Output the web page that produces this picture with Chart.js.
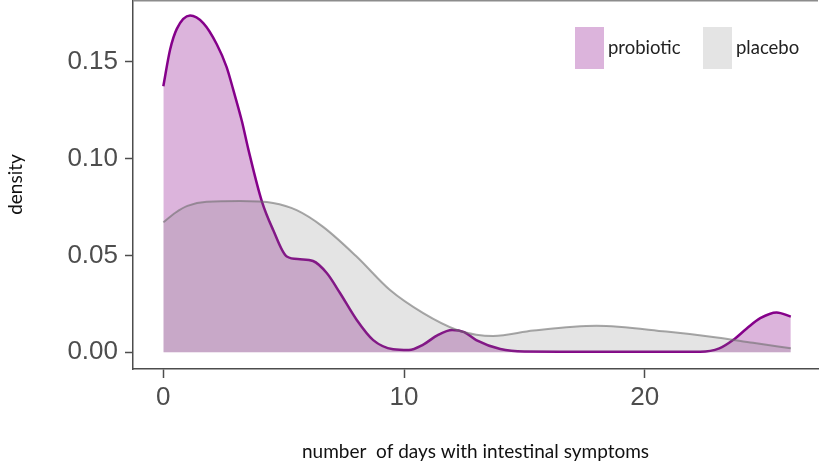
<!DOCTYPE html>
<html>
<head>
<meta charset="utf-8">
<script src="https://cdn.jsdelivr.net/npm/chart.js@4.4.1/dist/chart.umd.min.js"></script>
<style>
  html, body { margin: 0; padding: 0; background: #fff; }
  #wrap { width: 827px; height: 472px; }
</style>
</head>
<body>
<div id="wrap"><canvas id="chart" width="827" height="472"></canvas></div>
<script>
// density curves
const probioticDays = [0, 0.28, 0.56, 1.11, 1.66, 2.22, 2.63, 2.91, 3.26, 3.54, 4.09, 4.56, 5.13, 5.68, 6.22, 6.79, 7.34, 8.03, 8.72, 9.55, 10.2, 10.8, 11.4, 12.0, 12.5, 13.0, 14.0, 15.0, 17.0, 20.0, 22.3, 23.1, 23.67, 24.24, 24.8, 25.48, 26.07];
const probioticDensity = [0.1372, 0.156, 0.1668, 0.1737, 0.1698, 0.1589, 0.1471, 0.1352, 0.1194, 0.1043, 0.078, 0.0632, 0.0494, 0.048, 0.0471, 0.0409, 0.0306, 0.0168, 0.0063, 0.0016, 0.0012, 0.004, 0.0089, 0.0115, 0.0104, 0.0063, 0.0017, 0.0004, 0.0003, 0.0003, 0.0003, 0.002, 0.0063, 0.0123, 0.0176, 0.0206, 0.0184];

const placeboDays = [0, 0.5, 1.0, 1.8, 3.19, 4.56, 5.54, 6.64, 8.03, 9.42, 10.8, 12.2, 13.0, 13.7, 15.37, 18.0, 20.9, 23.0, 24.5, 26.07];
const placeboDensity = [0.0671, 0.072, 0.0755, 0.0777, 0.078, 0.077, 0.0733, 0.0647, 0.0494, 0.0321, 0.0202, 0.0115, 0.0091, 0.0084, 0.0112, 0.0137, 0.0107, 0.0077, 0.0049, 0.0021];

const groups = ["probiotic", "placebo"];
const legendSwatches = ["#dcb4dc", "#e4e4e4"];

const xTicks = [0, 10, 20];
const yTicks = [0, 0.05, 0.10, 0.15];

const toPoints = (xs, ys) => xs.map((x, i) => ({ x, y: ys[i] }));

const axisColor = "#4d4d4d";
const tickFont = { family: "'Liberation Sans', Arial, sans-serif", size: 26 };
const titleFont = { family: "Lato, 'Open Sans', sans-serif", size: 19 };

// gray frame line along the top of the panel
const topBorder = {
  id: "topBorder",
  afterDraw(chart) {
    const { ctx, chartArea } = chart;
    ctx.save();
    ctx.strokeStyle = "#8c8c8c";
    ctx.lineWidth = 1.5;
    ctx.beginPath();
    ctx.moveTo(chartArea.left, chartArea.top + 0.75);
    ctx.lineTo(chartArea.right, chartArea.top + 0.75);
    ctx.stroke();
    ctx.restore();
  },
};

// legend keys sitting inside the panel, top right
const insideLegend = {
  id: "insideLegend",
  afterDraw(chart) {
    const { ctx } = chart;
    const starts = [575, 703];
    ctx.save();
    ctx.font = "18.5px Lato, 'Open Sans', sans-serif";
    ctx.textBaseline = "middle";
    chart.data.datasets.forEach((ds, i) => {
      ctx.fillStyle = legendSwatches[i];
      ctx.fillRect(starts[i], 27, 29, 42);
      ctx.fillStyle = "#222";
      ctx.fillText(ds.label, starts[i] + 33, 48);
    });
    ctx.restore();
  },
};

const noEdgePadding = (scale) => {
  scale.paddingTop = 0;
  scale.paddingBottom = 0;
  scale.paddingLeft = 0;
  scale.paddingRight = 0;
};

new Chart(document.getElementById("chart"), {
  type: "line",
  data: {
    datasets: [
      {
        label: groups[0],
        data: toPoints(probioticDays, probioticDensity),
        borderColor: "#85008a",
        borderWidth: 2.5,
        backgroundColor: "#dcb4dc",
        fill: "origin",
        pointRadius: 0,
        cubicInterpolationMode: "monotone",
        order: 2,
      },
      {
        label: groups[1],
        data: toPoints(placeboDays, placeboDensity),
        borderColor: "rgba(110,110,110,0.6)",
        borderWidth: 2,
        backgroundColor: "rgba(120,120,120,0.2)",
        fill: "origin",
        pointRadius: 0,
        cubicInterpolationMode: "monotone",
        order: 1,
      },
    ],
  },
  options: {
    responsive: false,
    animation: false,
    layout: { padding: { left: 0, right: 9, top: 0, bottom: 0 } },
    plugins: {
      tooltip: { enabled: false },
      legend: { display: false },
    },
    scales: {
      x: {
        type: "linear",
        min: -1.26,
        max: 27.2,
        afterFit: (scale) => { scale.height = 103; noEdgePadding(scale); },
        afterBuildTicks: (scale) => { scale.ticks = xTicks.map((v) => ({ value: v })); },
        grid: { display: true, drawOnChartArea: false, drawTicks: true, tickLength: 9, tickColor: axisColor, tickWidth: 1.5 },
        border: { display: true, color: axisColor, width: 1.5 },
        ticks: { color: axisColor, font: tickFont, padding: 4, maxRotation: 0 },
        title: { display: true, text: "number  of days with intestinal symptoms", color: "#111", font: titleFont, padding: { top: 0, bottom: 9 } },
      },
      y: {
        type: "linear",
        min: -0.0086,
        max: 0.1817,
        afterFit: (scale) => { scale.width = 133; noEdgePadding(scale); },
        afterBuildTicks: (scale) => { scale.ticks = yTicks.map((v) => ({ value: v })); },
        grid: { display: true, drawOnChartArea: false, drawTicks: true, tickLength: 8, tickColor: axisColor, tickWidth: 1.5 },
        border: { display: true, color: axisColor, width: 1.5 },
        ticks: { color: axisColor, font: tickFont, padding: 7, callback: (v) => v.toFixed(2) },
        title: { display: true, text: "density", color: "#111", font: titleFont, padding: { top: 4, bottom: 0 } },
      },
    },
  },
  plugins: [topBorder, insideLegend],
});
</script>
</body>
</html>
